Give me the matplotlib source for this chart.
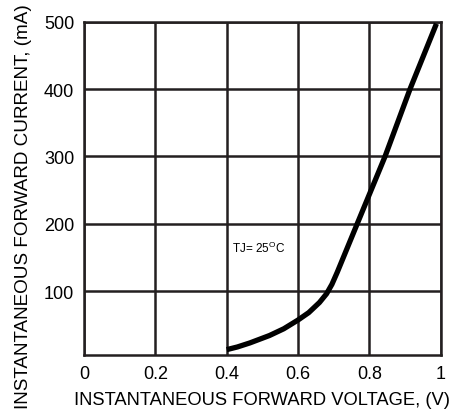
import numpy as np
import matplotlib
matplotlib.use("Agg")
import matplotlib.pyplot as plt

plt.rcParams['font.family'] = ['Liberation Sans', 'DejaVu Sans']
plt.rcParams['mathtext.fontset'] = 'custom'
plt.rcParams['mathtext.rm'] = 'Liberation Sans'

# forward voltage (V) vs forward current (mA)
vf_v = [0.40, 0.43, 0.465, 0.50, 0.52, 0.56, 0.60, 0.63, 0.66, 0.68, 0.695, 0.71, 0.766, 0.844, 0.914, 0.988]
if_ma = [13, 17, 23, 30, 34, 44, 57, 68, 83, 96, 110, 128, 200, 300, 400, 497]

xticks = [0, 0.2, 0.4, 0.6, 0.8, 1.0]
xticklabels = ['0', '0.2', '0.4', '0.6', '0.8', '1']
yticks = [100, 200, 300, 400, 500]

gridcol = '#231f20'

fig = plt.figure(figsize=(4.68, 4.14), dpi=100)
ax = fig.add_axes([0.1795, 0.140, 0.7622, 0.8052])

ax.plot(vf_v, if_ma, color='black', linewidth=3.8, solid_capstyle='butt',
        solid_joinstyle='round', zorder=3)

ax.set_xlim(0, 1)
ax.set_ylim(5, 500)
ax.set_xticks(xticks)
ax.set_xticklabels(xticklabels)
ax.set_yticks(yticks)
ax.tick_params(length=0, labelsize=13, pad=7, colors='black')
ax.grid(True, color=gridcol, linewidth=1.8)
for s in ax.spines.values():
    s.set_color(gridcol)
    s.set_linewidth(1.8)

ax.text(0.415, 165, 'TJ= 25$^\\mathrm{O}$C', fontsize=8.5, va='center', ha='left')

ax.set_xlabel("INSTANTANEOUS FORWARD VOLTAGE, (V)", fontsize=13.2, labelpad=7)
ax.set_ylabel("INSTANTANEOUS FORWARD CURRENT, (mA)", fontsize=13.6)
# label runs almost the full figure height, a bit below the axes centre
ax.yaxis.set_label_coords(-0.146, 0.447)

fig.savefig("out.png", dpi=100)
